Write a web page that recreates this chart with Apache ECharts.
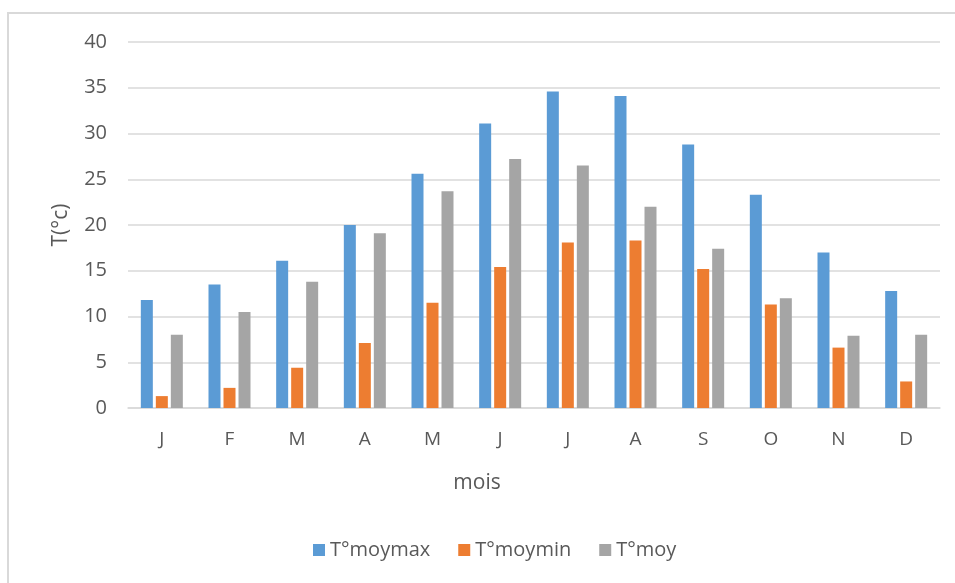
<!DOCTYPE html>
<html>
<head>
<meta charset="utf-8">
<script src="https://cdn.jsdelivr.net/npm/echarts@6/dist/echarts.min.js"></script>
<style>
  html, body { margin: 0; padding: 0; background: #fff; }
  #chart { width: 955px; height: 583px; }
</style>
</head>
<body>
<div id="chart"></div>
<script>
// Monthly temperatures (°C)
const months = ['J', 'F', 'M', 'A', 'M', 'J', 'J', 'A', 'S', 'O', 'N', 'D'];
const tMoyMax = [11.8, 13.5, 16.1, 20.0, 25.6, 31.1, 34.6, 34.1, 28.8, 23.3, 17.0, 12.8];
const tMoyMin = [1.3, 2.2, 4.4, 7.1, 11.5, 15.4, 18.1, 18.3, 15.2, 11.3, 6.6, 2.9];
const tMoy = [8.0, 10.5, 13.8, 19.1, 23.7, 27.2, 26.5, 22.0, 17.4, 12.0, 7.9, 8.0];
const seriesNames = ['T°moymax', 'T°moymin', 'T°moy'];
const colors = ['#5b9bd5', '#ed7d31', '#a5a5a5'];

const font = '"Open Sans", "Noto Sans", sans-serif';
const textColor = '#595959';
const chart = echarts.init(document.getElementById('chart'), null, { renderer: 'canvas' });

function bar(name, data, color) {
  return {
    name: name,
    type: 'bar',
    data: data,
    barWidth: 12,
    barGap: '25%',
    itemStyle: { color: color },
    emphasis: { disabled: true }
  };
}

chart.setOption({
  animation: false,
  color: colors,
  // chart frame: left and top edges
  graphic: [
    {
      type: 'polyline',
      shape: { points: [[8, 583], [8, 13], [955, 13]] },
      style: { fill: 'none', stroke: '#d9d9d9', lineWidth: 2 },
      silent: true
    }
  ],
  grid: { left: 128, right: 15, top: 42, bottom: 175, containLabel: false },
  legend: {
    data: seriesNames,
    bottom: 18,
    left: 308,
    itemWidth: 12,
    itemHeight: 12,
    itemGap: 28,
    icon: 'rect',
    textStyle: { fontFamily: font, fontSize: 20, color: textColor }
  },
  xAxis: {
    type: 'category',
    data: months,
    name: 'mois',
    nameLocation: 'middle',
    nameGap: 65,
    // title sits centred on the whole chart frame rather than the plot
    nameTextStyle: { fontFamily: font, fontSize: 21, color: textColor, padding: [0, 114, 0, 0] },
    axisLine: { show: true, lineStyle: { color: '#d9d9d9', width: 1.5 } },
    axisTick: { show: false },
    axisLabel: { fontFamily: font, fontSize: 19, color: textColor, margin: 22 }
  },
  yAxis: {
    type: 'value',
    min: 0,
    max: 40,
    interval: 5,
    name: 'T(°c)',
    nameLocation: 'middle',
    nameGap: 56,
    nameRotate: 90,
    nameTextStyle: { fontFamily: font, fontSize: 21, color: textColor },
    axisLine: { show: false },
    axisTick: { show: false },
    axisLabel: { fontFamily: font, fontSize: 20, color: textColor, margin: 21 },
    splitLine: { lineStyle: { color: '#d9d9d9', width: 1.5 } }
  },
  series: [
    bar(seriesNames[0], tMoyMax, colors[0]),
    bar(seriesNames[1], tMoyMin, colors[1]),
    bar(seriesNames[2], tMoy, colors[2])
  ]
});
</script>
</body>
</html>
